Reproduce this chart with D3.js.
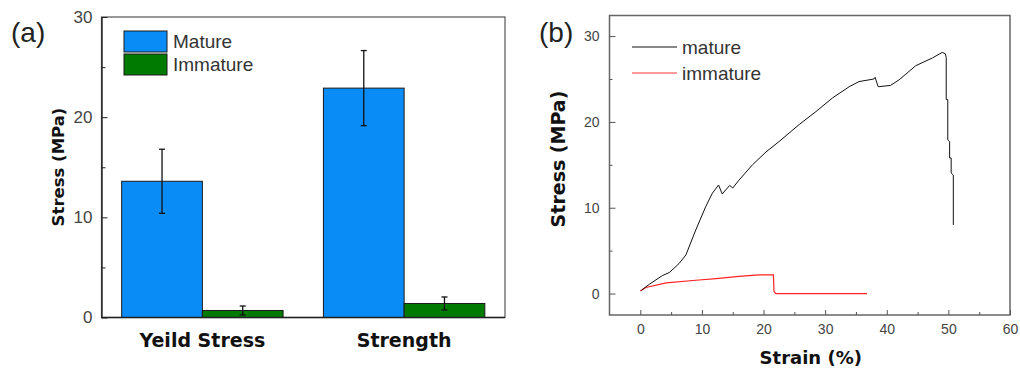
<!DOCTYPE html>
<html>
<head>
<meta charset="utf-8">
<script src="https://cdn.jsdelivr.net/npm/d3@7"></script>
<style>
  body { margin: 0; background: #fff; }
  text { font-family: "Liberation Sans", Arial, sans-serif; }
  .title { font-family: "DejaVu Sans", Verdana, sans-serif; font-weight: bold; fill: #111; }
</style>
</head>
<body>
<svg id="chart" width="1020" height="376"></svg>
<script>
// panel (a) data
var categories = ["Yeild Stress", "Strength"];
var groups = ["Mature", "Immature"];
var matureMean = [13.6, 22.9];
var matureErr = [3.2, 3.75];
var immatureMean = [0.7, 1.4];
var immatureErr = [0.45, 0.65];
var yTicksA = [0, 10, 20, 30];

// panel (b) data: strain (%) / stress (MPa)
var matureStrain = [0.2, 1.5, 3.6, 4.7, 6.3, 7.4, 9.0, 10.6, 11.7, 12.7, 13.3, 14.5, 15.0, 16.0, 18.2, 20.4, 22.5, 25.8, 28.5, 31.2, 33.9, 35.5, 37.9, 38.1, 38.6, 40.6, 42.0, 44.7, 47.4, 49.0, 49.5, 49.65, 49.65, 49.9, 49.9, 50.2, 50.2, 50.45, 50.45, 50.8, 50.8];
var matureStress = [0.4, 1.1, 2.1, 2.45, 3.5, 4.5, 7.4, 10.1, 11.7, 12.65, 11.6, 12.6, 12.3, 13.2, 15.0, 16.5, 17.7, 19.7, 21.2, 22.8, 24.1, 24.7, 25.0, 25.2, 24.1, 24.25, 24.9, 26.55, 27.45, 28.1, 27.95, 27.5, 22.6, 22.6, 17.9, 17.7, 15.8, 15.8, 14.05, 13.8, 8.0];
var immatureStrain = [0.0, 0.9, 4.2, 9.0, 12.3, 16.0, 19.3, 21.6, 21.7, 22.0, 36.8];
var immatureStress = [0.3, 0.7, 1.24, 1.55, 1.75, 2.0, 2.17, 2.17, 0.23, 0.0, 0.0];
var xTicksB = [0, 10, 20, 30, 40, 50, 60];
var yTicksB = [0, 10, 20, 30];

var svg = d3.select("#chart");

// ---------- panel (a) ----------
var ga = svg.append("g");
var aLeft = 101.5, aRight = 505, aTop = 17, aBottom = 317.5;

var x0 = d3.scaleBand().domain(categories).range([aLeft, aRight]).paddingInner(0.2).paddingOuter(0.1);
var x1 = d3.scaleBand().domain(groups).range([0, x0.bandwidth()]);
var ya = d3.scaleLinear().domain([0, 30]).range([aBottom, aTop]);
var colors = { Mature: "#0a8cf7", Immature: "#007a00" };

ga.append("rect")
  .attr("x", aLeft).attr("y", aTop)
  .attr("width", aRight - aLeft).attr("height", aBottom - aTop)
  .attr("fill", "none").attr("stroke", "#555").attr("stroke-width", 1.2);

var barData = [];
categories.forEach(function (c, i) {
  barData.push({ cat: c, grp: "Mature", v: matureMean[i], e: matureErr[i] });
  barData.push({ cat: c, grp: "Immature", v: immatureMean[i], e: immatureErr[i] });
});

ga.selectAll(".bar").data(barData).enter().append("rect")
  .attr("x", d => x0(d.cat) + x1(d.grp))
  .attr("y", d => ya(d.v))
  .attr("width", x1.bandwidth())
  .attr("height", d => ya(0) - ya(d.v))
  .attr("fill", d => colors[d.grp])
  .attr("stroke", "#1a1a1a").attr("stroke-width", 1);

var err = ga.selectAll(".err").data(barData).enter().append("g")
  .attr("stroke", "#111").attr("stroke-width", 1.3);
err.append("line")
  .attr("x1", d => x0(d.cat) + x1(d.grp) + x1.bandwidth() / 2)
  .attr("x2", d => x0(d.cat) + x1(d.grp) + x1.bandwidth() / 2)
  .attr("y1", d => ya(d.v + d.e)).attr("y2", d => ya(d.v - d.e));
[1, -1].forEach(function (s) {
  err.append("line")
    .attr("x1", d => x0(d.cat) + x1(d.grp) + x1.bandwidth() / 2 - 3)
    .attr("x2", d => x0(d.cat) + x1(d.grp) + x1.bandwidth() / 2 + 3)
    .attr("y1", d => ya(d.v + s * d.e)).attr("y2", d => ya(d.v + s * d.e));
});

// y axis with inward ticks
var yAxisA = d3.axisLeft(ya).tickValues(yTicksA).tickSizeInner(-6).tickSizeOuter(0).tickPadding(9);
var yaG = ga.append("g").attr("transform", "translate(" + aLeft + ",0)").call(yAxisA);
yaG.select(".domain").attr("stroke", "#222").attr("stroke-width", 1.4);
yaG.selectAll(".tick line").attr("stroke", "#222");
yaG.selectAll(".tick text").attr("font-size", 17).attr("fill", "#444");
ga.append("g").attr("transform", "translate(" + aLeft + ",0)")
  .call(d3.axisLeft(ya).tickValues([5, 15, 25]).tickSize(-4).tickFormat(""))
  .call(g => g.select(".domain").remove())
  .selectAll("line").attr("stroke", "#222");

ga.append("line").attr("x1", aLeft).attr("x2", aRight).attr("y1", aBottom).attr("y2", aBottom)
  .attr("stroke", "#222").attr("stroke-width", 1.4);

ga.selectAll(".cat").data(categories).enter().append("text")
  .attr("class", "title")
  .attr("x", d => x0(d) + x0.bandwidth() / 2)
  .attr("y", 347)
  .attr("text-anchor", "middle")
  .attr("font-size", 19)
  .text(d => d);

ga.append("text").attr("class", "title")
  .attr("transform", "translate(64,167) rotate(-90)")
  .attr("text-anchor", "middle").attr("font-size", 16.5)
  .text("Stress (MPa)");

ga.append("text").attr("x", 11).attr("y", 42).attr("font-size", 28).attr("fill", "#222").text("(a)");

var legA = ga.selectAll(".lega").data(groups).enter().append("g")
  .attr("transform", (d, i) => "translate(124," + (31 + i * 23) + ")");
legA.append("rect").attr("width", 43).attr("height", 21)
  .attr("fill", d => colors[d]).attr("stroke", "#1a1a1a").attr("stroke-width", 1);
legA.append("text").attr("x", 49).attr("y", 17).attr("font-size", 19).attr("fill", "#333").text(d => d);

// ---------- panel (b) ----------
var gb = svg.append("g");
var bl = 609.5, br = 1010, bt = 15.5, bb = 315;
var xb = d3.scaleLinear().domain([-5, 60]).range([bl, br]);
var yb = d3.scaleLinear().domain([-2.5, 32.4]).range([bb, bt]);

gb.append("rect").attr("x", bl).attr("y", bt).attr("width", br - bl).attr("height", bb - bt)
  .attr("fill", "none").attr("stroke", "#666").attr("stroke-width", 1.5);

var xaG = gb.append("g").attr("transform", "translate(0," + bb + ")")
  .call(d3.axisBottom(xb).tickValues(xTicksB).tickSizeInner(-5).tickSizeOuter(0).tickPadding(9));
xaG.select(".domain").remove();
xaG.selectAll(".tick line").attr("stroke", "#555");
xaG.selectAll(".tick text").attr("font-size", 14).attr("fill", "#444");
gb.append("g").attr("transform", "translate(0," + bb + ")")
  .call(d3.axisBottom(xb).tickValues([5, 15, 25, 35, 45, 55]).tickSize(-3).tickFormat(""))
  .call(g => g.select(".domain").remove())
  .selectAll("line").attr("stroke", "#555");

var ybG = gb.append("g").attr("transform", "translate(" + bl + ",0)")
  .call(d3.axisLeft(yb).tickValues(yTicksB).tickSizeInner(-6).tickSizeOuter(0).tickPadding(10));
ybG.select(".domain").remove();
ybG.selectAll(".tick line").attr("stroke", "#555");
ybG.selectAll(".tick text").attr("font-size", 14).attr("fill", "#444");
gb.append("g").attr("transform", "translate(" + bl + ",0)")
  .call(d3.axisLeft(yb).tickValues([5, 15, 25]).tickSize(-3).tickFormat(""))
  .call(g => g.select(".domain").remove())
  .selectAll("line").attr("stroke", "#555");

var line = d3.line().x(d => xb(d[0])).y(d => yb(d[1]));
gb.append("path").datum(d3.zip(immatureStrain, immatureStress))
  .attr("fill", "none").attr("stroke", "#f22").attr("stroke-width", 1.2).attr("d", line);
gb.append("path").datum(d3.zip(matureStrain, matureStress))
  .attr("fill", "none").attr("stroke", "#111").attr("stroke-width", 1).attr("d", line);

gb.append("text").attr("class", "title")
  .attr("x", (bl + br) / 2 + 1).attr("y", 364)
  .attr("text-anchor", "middle").attr("font-size", 18)
  .text("Strain (%)");
gb.append("text").attr("class", "title")
  .attr("transform", "translate(565,159) rotate(-90)")
  .attr("text-anchor", "middle").attr("font-size", 19)
  .text("Stress (MPa)");
gb.append("text").attr("x", 539).attr("y", 42).attr("font-size", 28).attr("fill", "#222").text("(b)");

var legB = [{ name: "mature", color: "#111" }, { name: "immature", color: "#f33" }];
var lb = gb.selectAll(".legb").data(legB).enter().append("g")
  .attr("transform", (d, i) => "translate(632," + (47 + i * 26) + ")");
lb.append("line").attr("x1", 0).attr("x2", 45).attr("stroke", d => d.color).attr("stroke-width", 1.2);
lb.append("text").attr("x", 50).attr("y", 7).attr("font-size", 19).attr("fill", "#333").text(d => d.name);
</script>
</body>
</html>
